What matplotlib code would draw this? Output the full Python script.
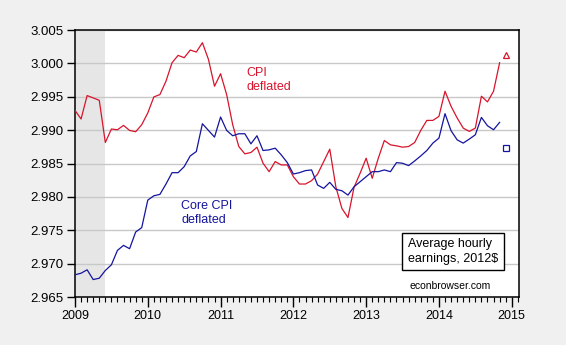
import numpy as np
import matplotlib.pyplot as plt
from matplotlib.ticker import MultipleLocator, FixedLocator

plt.rcParams['font.family'] = ['Liberation Sans', 'DejaVu Sans']

# Monthly log real average hourly earnings, Jan 2009 - Nov 2014
start_year = 2009
cpi_deflated = [
    2.99297, 2.99167, 2.99518, 2.99483, 2.99447, 2.98815, 2.99017, 2.99006, 2.99071, 2.98996, 2.98976, 2.99081,
    2.99258, 2.99498, 2.99533, 2.99734, 3.00010, 3.00120, 3.00085, 3.00200, 3.00170, 3.00310, 3.00060, 2.99658,
    2.99845, 2.99533, 2.99081, 2.98755, 2.98645, 2.98665, 2.98745, 2.98505, 2.98378, 2.98529, 2.98479, 2.98479,
    2.98303, 2.98193, 2.98193, 2.98243, 2.98343, 2.98529, 2.98715, 2.98152, 2.97827, 2.97691, 2.98143, 2.98354,
    2.98580, 2.98279, 2.98580, 2.98845, 2.98780, 2.98765, 2.98745, 2.98755, 2.98815, 2.98996, 2.99146, 2.99146,
    2.99207, 2.99583, 2.99357, 2.99182, 2.99031, 2.98981, 2.99031, 2.99508, 2.99423, 2.99583, 3.00010,
]
core_deflated = [
    2.96833, 2.96857, 2.96908, 2.96762, 2.96782, 2.96898, 2.96983, 2.97199, 2.97274, 2.97224, 2.97474, 2.97540,
    2.97952, 2.98017, 2.98038, 2.98193, 2.98363, 2.98363, 2.98453, 2.98614, 2.98679, 2.99096, 2.98996, 2.98896,
    2.99197, 2.98996, 2.98916, 2.98946, 2.98946, 2.98795, 2.98916, 2.98695, 2.98705, 2.98730, 2.98630, 2.98514,
    2.98343, 2.98363, 2.98394, 2.98404, 2.98178, 2.98128, 2.98218, 2.98113, 2.98092, 2.98027, 2.98152, 2.98227,
    2.98303, 2.98378, 2.98378, 2.98404, 2.98378, 2.98514, 2.98504, 2.98469, 2.98539, 2.98614, 2.98695, 2.98806,
    2.98881, 2.99247, 2.98991, 2.98855, 2.98806, 2.98866, 2.98931, 2.99191, 2.99066, 2.99006, 2.99116,
]
# December 2014 estimates
cpi_dec = 3.00130
core_dec = 2.98730
recession = (2009.0, 2009 + 5 / 12)

x = start_year + np.arange(len(cpi_deflated)) / 12
x_dec = start_year + len(cpi_deflated) / 12

red = '#d8142c'
blue = '#14149e'

fig = plt.figure(figsize=(5.66, 3.45), dpi=100, facecolor='#f0f0f0')
ax = fig.add_axes([0.1325, 0.139, 0.7845, 0.774])

ax.axvspan(*recession, color='#e6e6e6', lw=0, zorder=0)
for yv in np.arange(2.970, 3.0051, 0.005):
    ax.axhline(yv, color='#c8c8c8', lw=1, zorder=1)

ax.plot(x, cpi_deflated, color=red, lw=0.9, zorder=3)
ax.plot(x, core_deflated, color=blue, lw=0.9, zorder=3)
ax.plot([x_dec], [cpi_dec], marker='^', ms=4.5, mfc='none', mec=red, mew=0.9, ls='none', zorder=4)
ax.plot([x_dec], [core_dec], marker='s', ms=4.5, mfc='none', mec=blue, mew=0.9, ls='none', zorder=4)

ax.text(2011.36, 2.9995, 'CPI\ndeflated', color=red, fontsize=9, va='top', linespacing=1.2)
ax.text(2010.46, 2.9795, 'Core CPI\ndeflated', color=blue, fontsize=9, va='top', linespacing=1.2)
ax.text(2013.574, 2.97184, 'Average hourly\nearnings, 2012$', fontsize=9, ha='left', va='center',
        linespacing=1.25,
        bbox=dict(boxstyle='square,pad=0.45', fc='white', ec='black', lw=1))
ax.text(2014.16, 2.96669, 'econbrowser.com', fontsize=7.5, ha='center', va='center')

ax.set_xlim(2009.0, 2015.1)
ax.set_ylim(2.965, 3.005)
ax.xaxis.set_major_locator(FixedLocator(range(2009, 2016)))
ax.xaxis.set_minor_locator(MultipleLocator(1 / 12))
ax.yaxis.set_major_locator(MultipleLocator(0.005))
ax.yaxis.set_major_formatter(plt.FormatStrFormatter('%.3f'))

ax.tick_params(axis='x', which='major', length=7, width=1, labelsize=9, pad=2, direction='out')
ax.tick_params(axis='x', which='minor', length=3.5, width=0.8, direction='out')
ax.tick_params(axis='y', which='major', length=6, width=1, labelsize=9.5, pad=2, direction='out')
for s in ax.spines.values():
    s.set_linewidth(1.1)
    s.set_color('black')

fig.savefig('out.png', dpi=100, facecolor=fig.get_facecolor())
